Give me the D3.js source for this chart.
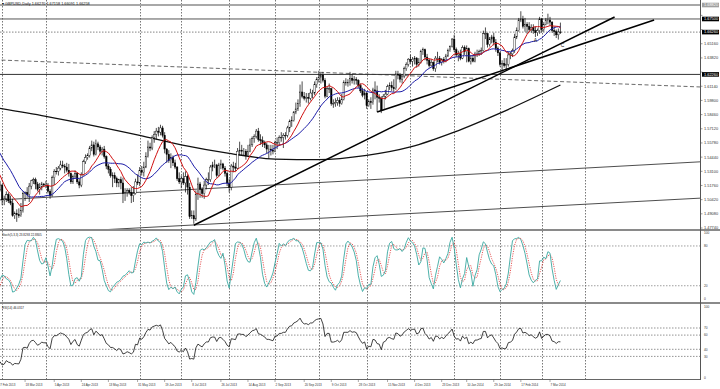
<!DOCTYPE html>
<html>
<head>
<meta charset="utf-8">
<script src="https://cdn.jsdelivr.net/npm/d3@7"></script>
<style>
body { margin: 0; background: #fff; }
svg { display: block; font-family: "Liberation Sans", Arial, sans-serif; }
</style>
</head>
<body>
<svg id="chart" width="720" height="389"></svg>
<script>
// ---- data (GBPUSD daily), one row per week ----
const startDay = "2013-01-21";
const holidays = ["2013-12-25", "2014-01-01"];
const openFirst = 1.5860;

const closes = [
  1.5845,1.5820,1.5830,1.5780,1.5710, 1.5730,1.5700,1.5800,1.5860,1.5740,
  1.5680,1.5690,1.5640,1.5650,1.5690, 1.5690,1.5690,1.5530,1.5500,1.5500,
  1.5490,1.5480,1.5290,1.5210,1.5160, 1.5130,1.5140,1.5140,1.5180,1.5040,
  1.5050,1.5090,1.5030,1.5010,1.4890, 1.4910,1.4900,1.4890,1.4940,1.5100,
  1.5110,1.5090,1.5170,1.5220,1.5230, 1.5190,1.5140,1.5160,1.5190,1.5180,
  1.5180,1.5120,1.5080,1.5250,1.5310, 1.5310,1.5340,1.5370,1.5360,1.5350,
  1.5320,1.5290,1.5210,1.5260,1.5290, 1.5210,1.5180,1.5280,1.5400,1.5440,
  1.5460,1.5530,1.5560,1.5470,1.5570, 1.5540,1.5500,1.5520,1.5450,1.5360,
  1.5330,1.5270,1.5270,1.5240,1.5200, 1.5230,1.5200,1.5100,1.5110,1.5130,
  1.5110,1.5080,1.5100,1.5210,1.5200, 1.5320,1.5300,1.5350,1.5450,1.5540,
  1.5530,1.5630,1.5660,1.5690,1.5680, 1.5720,1.5650,1.5520,1.5470,1.5410,
  1.5440,1.5390,1.5350,1.5240,1.5210, 1.5240,1.5200,1.5260,1.5160,1.4880,
  1.4890,1.4860,1.5090,1.5190,1.5140, 1.5100,1.5180,1.5230,1.5230,1.5350,
  1.5370,1.5370,1.5270,1.5370,1.5380, 1.5340,1.5290,1.5200,1.5160,1.5360,
  1.5350,1.5340,1.5500,1.5510,1.5500, 1.5500,1.5460,1.5500,1.5560,1.5620,
  1.5640,1.5690,1.5610,1.5600,1.5580, 1.5560,1.5520,1.5520,1.5510,1.5500,
  1.5580,1.5580,1.5630,1.5630,1.5650, 1.5650,1.5720,1.5780,1.5790,1.5870,
  1.5900,1.5950,1.6060,1.6020,1.6000, 1.6010,1.6000,1.6050,1.6050,1.6130,
  1.6180,1.6200,1.6220,1.6170,1.6020, 1.6090,1.6090,1.5950,1.5950,1.5960,
  1.5980,1.5950,1.5990,1.6150,1.6150, 1.6150,1.6190,1.6170,1.6180,1.6170,
  1.6120,1.6070,1.6030,1.6050,1.5930, 1.5970,1.5960,1.6080,1.6070,1.6010,
  1.6000,1.5890,1.6020,1.6040,1.6110, 1.6120,1.6100,1.6090,1.6230,1.6220,
  1.6180,1.6210,1.6280,1.6320,1.6370, 1.6350,1.6370,1.6380,1.6320,1.6340,
  1.6440,1.6460,1.6390,1.6360,1.6310, 1.6340,1.6280,1.6380,1.6380,1.6340,
  1.6370,1.6350,1.6400,1.6450,        1.6490,1.6560,1.6460,1.6410,
  1.6420,1.6380,1.6480,1.6440,1.6470, 1.6350,1.6380,1.6350,1.6420,1.6420,
  1.6440,1.6450,1.6610,1.6610,1.6510, 1.6560,1.6580,1.6530,1.6470,1.6430,
  1.6320,1.6330,1.6310,1.6320,1.6410, 1.6420,1.6450,1.6580,1.6640,1.6740,
  1.6750,1.6680,1.6700,1.6680,1.6650, 1.6670,1.6640,1.6620,1.6640,1.6750,
  1.6650,1.6700,1.6740,1.6740,1.6720, 1.6640,1.6630,1.6600,1.6627,1.6626
];

const highs = [
  1.5870,1.5870,1.5860,1.5860,1.5790, 1.5750,1.5760,1.5820,1.5880,1.5870,
  1.5760,1.5730,1.5710,1.5720,1.5710, 1.5730,1.5740,1.5700,1.5560,1.5530,
  1.5530,1.5510,1.5490,1.5310,1.5240, 1.5200,1.5160,1.5200,1.5220,1.5190,
  1.5080,1.5120,1.5110,1.5080,1.5050, 1.4930,1.4950,1.4960,1.5010,1.5120,
  1.5120,1.5160,1.5200,1.5230,1.5250, 1.5250,1.5210,1.5200,1.5210,1.5200,
  1.5220,1.5200,1.5140,1.5270,1.5330, 1.5350,1.5360,1.5410,1.5410,1.5380,
  1.5390,1.5380,1.5300,1.5280,1.5320, 1.5300,1.5240,1.5300,1.5420,1.5470,
  1.5480,1.5550,1.5600,1.5590,1.5610, 1.5590,1.5560,1.5540,1.5550,1.5460,
  1.5380,1.5350,1.5300,1.5300,1.5260, 1.5240,1.5260,1.5250,1.5150,1.5150,
  1.5150,1.5160,1.5170,1.5240,1.5280, 1.5350,1.5360,1.5400,1.5490,1.5600,
  1.5580,1.5650,1.5690,1.5720,1.5730, 1.5750,1.5740,1.5680,1.5530,1.5510,
  1.5480,1.5460,1.5420,1.5360,1.5300, 1.5270,1.5300,1.5310,1.5280,1.5200,
  1.4940,1.4940,1.5130,1.5250,1.5210, 1.5160,1.5220,1.5250,1.5300,1.5370,
  1.5400,1.5420,1.5380,1.5390,1.5420, 1.5390,1.5360,1.5310,1.5240,1.5380,
  1.5400,1.5390,1.5530,1.5590,1.5560, 1.5530,1.5520,1.5560,1.5620,1.5640,
  1.5660,1.5710,1.5720,1.5660,1.5640, 1.5600,1.5580,1.5560,1.5560,1.5560,
  1.5600,1.5630,1.5650,1.5680,1.5670, 1.5680,1.5740,1.5800,1.5830,1.5880,
  1.5960,1.5990,1.6130,1.6160,1.6060, 1.6050,1.6050,1.6090,1.6080,1.6160,
  1.6200,1.6260,1.6240,1.6250,1.6190, 1.6110,1.6140,1.6100,1.5990,1.6000,
  1.6010,1.6010,1.6040,1.6170,1.6190, 1.6180,1.6250,1.6230,1.6210,1.6200,
  1.6180,1.6140,1.6100,1.6090,1.6060, 1.5990,1.6010,1.6100,1.6160,1.6120,
  1.6040,1.6020,1.6040,1.6080,1.6130, 1.6150,1.6160,1.6180,1.6260,1.6260,
  1.6240,1.6230,1.6300,1.6340,1.6380, 1.6410,1.6390,1.6400,1.6390,1.6380,
  1.6460,1.6480,1.6470,1.6420,1.6380, 1.6370,1.6350,1.6400,1.6440,1.6400,
  1.6380,1.6390,1.6420,1.6470,        1.6500,1.6570,1.6600,1.6480,
  1.6450,1.6460,1.6500,1.6500,1.6500, 1.6480,1.6410,1.6410,1.6440,1.6460,
  1.6460,1.6480,1.6640,1.6670,1.6620, 1.6580,1.6600,1.6620,1.6560,1.6490,
  1.6440,1.6360,1.6380,1.6380,1.6440, 1.6440,1.6470,1.6610,1.6670,1.6760,
  1.6823,1.6780,1.6760,1.6720,1.6720, 1.6700,1.6700,1.6680,1.6660,1.6770,
  1.6760,1.6720,1.6760,1.6800,1.6770, 1.6730,1.6680,1.6650,1.6660,1.6716
];

const lows = [
  1.5830,1.5800,1.5770,1.5750,1.5680, 1.5690,1.5680,1.5690,1.5780,1.5710,
  1.5650,1.5630,1.5600,1.5610,1.5620, 1.5640,1.5650,1.5500,1.5470,1.5450,
  1.5460,1.5400,1.5270,1.5180,1.5130, 1.5070,1.5100,1.5100,1.5120,1.4990,
  1.4990,1.5020,1.5010,1.4990,1.4880, 1.4860,1.4832,1.4870,1.4880,1.4920,
  1.5030,1.5060,1.5020,1.5140,1.5190, 1.5140,1.5120,1.5090,1.5130,1.5160,
  1.5150,1.5100,1.5050,1.5070,1.5180, 1.5280,1.5270,1.5320,1.5340,1.5290,
  1.5300,1.5260,1.5190,1.5190,1.5240, 1.5190,1.5150,1.5160,1.5270,1.5380,
  1.5420,1.5440,1.5500,1.5450,1.5460, 1.5510,1.5470,1.5460,1.5430,1.5330,
  1.5290,1.5250,1.5160,1.5200,1.5160, 1.5160,1.5140,1.5010,1.5030,1.5070,
  1.5090,1.5010,1.5020,1.5090,1.5180, 1.5170,1.5270,1.5260,1.5340,1.5440,
  1.5500,1.5510,1.5580,1.5610,1.5640, 1.5650,1.5630,1.5480,1.5390,1.5390,
  1.5340,1.5360,1.5330,1.5220,1.5190, 1.5150,1.5180,1.5110,1.5090,1.4860,
  1.4860,1.4814,1.4840,1.5040,1.5060, 1.5060,1.5050,1.5140,1.5180,1.5210,
  1.5310,1.5340,1.5250,1.5260,1.5330, 1.5320,1.5260,1.5170,1.5110,1.5130,
  1.5300,1.5310,1.5330,1.5460,1.5460, 1.5460,1.5420,1.5450,1.5490,1.5540,
  1.5580,1.5620,1.5590,1.5560,1.5540, 1.5530,1.5480,1.5430,1.5460,1.5470,
  1.5490,1.5520,1.5550,1.5590,1.5530, 1.5610,1.5630,1.5680,1.5730,1.5780,
  1.5850,1.5880,1.5920,1.6000,1.5980, 1.5960,1.5950,1.5980,1.6000,1.6030,
  1.6100,1.6150,1.6140,1.6150,1.6000, 1.6010,1.6050,1.5930,1.5910,1.5920,
  1.5930,1.5920,1.5940,1.5980,1.6120, 1.6110,1.6120,1.6140,1.6130,1.6130,
  1.6100,1.6050,1.6010,1.5990,1.5900, 1.5920,1.5900,1.5940,1.5990,1.5870,
  1.5960,1.5860,1.5890,1.5990,1.6030, 1.6080,1.6070,1.6060,1.6080,1.6180,
  1.6150,1.6140,1.6190,1.6260,1.6300, 1.6330,1.6300,1.6320,1.6290,1.6300,
  1.6330,1.6410,1.6360,1.6320,1.6290, 1.6300,1.6260,1.6250,1.6340,1.6320,
  1.6310,1.6330,1.6340,1.6390,        1.6440,1.6480,1.6440,1.6390,
  1.6350,1.6360,1.6370,1.6410,1.6340, 1.6340,1.6320,1.6340,1.6340,1.6390,
  1.6400,1.6410,1.6440,1.6560,1.6480, 1.6490,1.6520,1.6500,1.6440,1.6400,
  1.6300,1.6250,1.6290,1.6260,1.6300, 1.6370,1.6390,1.6430,1.6560,1.6630,
  1.6720,1.6660,1.6630,1.6610,1.6630, 1.6620,1.6610,1.6580,1.6590,1.6610,
  1.6620,1.6630,1.6690,1.6700,1.6690, 1.6620,1.6590,1.6570,1.6555,1.6609
];

// 200-day average, read at month points
const sma200Knots = [
  ["2013-02-27", 1.5908], ["2013-04-01", 1.5830], ["2013-05-01", 1.5745],
  ["2013-06-03", 1.5650], ["2013-07-01", 1.5560], ["2013-08-01", 1.5480],
  ["2013-09-02", 1.5425], ["2013-10-01", 1.5420], ["2013-11-01", 1.5460],
  ["2013-12-02", 1.5540], ["2014-01-02", 1.5680], ["2014-02-03", 1.5860],
  ["2014-03-14", 1.6126]
];

const dateTicks = [
  "2013-02-27", "2013-03-18", "2013-04-05", "2013-04-24", "2013-05-13",
  "2013-05-31", "2013-06-19", "2013-07-08", "2013-07-26", "2013-08-14",
  "2013-09-02", "2013-09-20", "2013-10-09", "2013-10-28", "2013-11-15",
  "2013-12-04", "2013-12-23", "2014-01-10", "2014-01-29", "2014-02-17",
  "2014-03-07"
];
// dotted month separators as they appear in the picture
const monthLines = [
  "2013-03-01", "2013-04-01", "2013-06-03", "2013-07-01", "2013-08-01",
  "2013-09-02", "2013-10-01", "2013-11-01", "2013-12-02", "2014-01-02",
  "2014-02-03", "2014-03-03", "2014-04-01"
];
const priceTicks = [
  1.4774, 1.4908, 1.5042, 1.5176, 1.5310, 1.5444, 1.5578, 1.5712,
  1.5846, 1.5980, 1.6114, 1.6248, 1.6382, 1.6516, 1.6650, 1.6784
];
const levelPrices = [1.6882, 1.6750, 1.6226];
const trendSegments = [
  [["2013-07-09", 1.4800], ["2014-04-21", 1.6769]],
  [["2013-11-08", 1.5870], ["2014-05-16", 1.6740]]
];
const channelLines = [
  [["2013-02-27", 1.5039], ["2013-10-25", 1.5223]],
  [["2013-10-25", 1.4884], ["2014-03-07", 1.4981]]
];
const dashedLine = [["2013-02-28", 1.6362], ["2014-03-07", 1.6162]];
const waveLabels = [["2014-02-26", 1.6532, "A"], ["2014-03-17", 1.6485, "C"]];
const stochLevels = [80, 20];
const rsiLevels = [70, 60, 40, 30];
const headerText = "GBPUSD,Daily  1.66270 1.67158 1.66091 1.66258";
const stochText = "Stoch(5,3,3) 23.8293 22.8805";
const rsiText = "RSI(14) 46.0317";

if (closes.length !== highs.length || closes.length !== lows.length) {
  throw new Error("length mismatch " + closes.length + " " + highs.length + " " + lows.length);
}

// ---- calendar of trading days ----
function buildCalendar(start, n) {
  const out = [];
  const d = new Date(start + "T00:00:00Z");
  while (out.length < n) {
    const s = d.toISOString().slice(0, 10), wd = d.getUTCDay();
    if (wd > 0 && wd < 6 && !holidays.includes(s)) out.push(s);
    d.setUTCDate(d.getUTCDate() + 1);
  }
  return out;
}
const days = buildCalendar(startDay, closes.length + 90);
const di = s => days.indexOf(s);

const bars = closes.map((c, i) => ({
  i, c, h: highs[i], l: lows[i], o: i ? closes[i - 1] : openFirst
}));

// ---- indicators ----
function sma(arr, n) {
  return arr.map((v, i) => i < n - 1 ? null : d3.mean(arr.slice(i - n + 1, i + 1)));
}
const maFast = sma(closes, 10);
const maSlow = sma(closes, 21);

const stochMain = [], stochSig = [];
{
  const num = [], den = [];
  for (let i = 0; i < closes.length; i++) {
    if (i < 4) { num.push(null); den.push(null); continue; }
    const ll = d3.min(lows.slice(i - 4, i + 1)), hh = d3.max(highs.slice(i - 4, i + 1));
    num.push(closes[i] - ll); den.push(hh - ll);
  }
  for (let i = 0; i < closes.length; i++) {
    if (i < 6) { stochMain.push(null); continue; }
    const n = d3.sum(num.slice(i - 2, i + 1)), d = d3.sum(den.slice(i - 2, i + 1));
    stochMain.push(d ? 100 * n / d : 50);
  }
  for (let i = 0; i < closes.length; i++) {
    stochSig.push(i < 8 ? null : d3.mean(stochMain.slice(i - 2, i + 1)));
  }
}

const rsi = [];
{
  let ag = 0, al = 0;
  rsi.push(null);
  for (let i = 1; i < closes.length; i++) {
    const ch = closes[i] - closes[i - 1];
    const g = Math.max(ch, 0), l = Math.max(-ch, 0);
    if (i <= 14) {
      ag += g / 14; al += l / 14;
      rsi.push(i < 14 ? null : 100 - 100 / (1 + ag / al));
    } else {
      ag = (ag * 13 + g) / 14; al = (al * 13 + l) / 14;
      rsi.push(al === 0 ? 100 : 100 - 100 / (1 + ag / al));
    }
  }
}

// ---- layout ----
const svg = d3.select("#chart");
const plotW = 700;
const main = { top: 0, bottom: 229 }, stoch = { top: 231, bottom: 302 }, rsiP = { top: 304, bottom: 379 };

const x = d3.scaleLinear().domain([di("2013-02-27"), di("2014-03-07")]).range([-2, 550]);
const yP = d3.scaleLinear().domain([1.4774, 1.6920]).range([228, 1]);
const yS = d3.scaleLinear().domain([0, 100]).range([299, 232.7]);
const yR = d3.scaleLinear().domain([0, 100]).range([377.7, 306.7]);

const defs = svg.append("defs");
[["cMain", main], ["cStoch", stoch], ["cRsi", rsiP]].forEach(([id, p]) => {
  defs.append("clipPath").attr("id", id).append("rect")
    .attr("x", 0).attr("y", p.top).attr("width", plotW).attr("height", p.bottom - p.top);
});

svg.append("rect").attr("width", 720).attr("height", 389).attr("fill", "#fff");

// month separators (dotted verticals through all panels)
svg.append("g").selectAll("line").data(monthLines.map(di)).join("line")
  .attr("x1", i => Math.round(x(i)) + 0.5).attr("x2", i => Math.round(x(i)) + 0.5)
  .attr("y1", 0).attr("y2", rsiP.bottom)
  .attr("stroke", "#555").attr("stroke-width", 0.8).attr("stroke-dasharray", "1.5,1.5");

// ---- main panel ----
const gM = svg.append("g").attr("clip-path", "url(#cMain)");

function extended(a, b, x0, x1) {
  const ia = di(a[0]), ib = di(b[0]);
  const slope = (b[1] - a[1]) / (ib - ia);
  const i0 = x.invert(x0), i1 = x.invert(x1);
  return [[i0, a[1] + slope * (i0 - ia)], [i1, a[1] + slope * (i1 - ia)]];
}
const seg = d3.line().x(d => x(d[0])).y(d => yP(d[1]));

// dashed sloped line
gM.append("path").attr("d", seg(extended(dashedLine[0], dashedLine[1], -5, 720)))
  .attr("fill", "none").attr("stroke", "#444").attr("stroke-width", 0.8).attr("stroke-dasharray", "4,2.5");

// horizontal levels
const levelStyle = [
  { c: "#a8a8a8", w: 2 }, { c: "#555", w: 1 }, { c: "#333", w: 1 }
];
gM.selectAll("line.lvl").data(levelPrices).join("line").attr("class", "lvl")
  .attr("x1", 0).attr("x2", plotW).attr("y1", d => yP(d)).attr("y2", d => yP(d))
  .attr("stroke", (d, i) => levelStyle[i].c).attr("stroke-width", (d, i) => levelStyle[i].w);

// bid line
const bid = closes[closes.length - 1];
gM.append("line").attr("x1", 0).attr("x2", plotW).attr("y1", yP(bid)).attr("y2", yP(bid))
  .attr("stroke", "#666").attr("stroke-width", 0.8).attr("stroke-dasharray", "1.5,1.5");

// channel lines
channelLines.forEach(([a, b]) => {
  gM.append("path").attr("d", seg(extended(a, b, -5, 720)))
    .attr("fill", "none").attr("stroke", "#3a3a3a").attr("stroke-width", 0.9);
});

// 200 average
gM.append("path").datum(sma200Knots)
  .attr("d", d3.line().curve(d3.curveMonotoneX).x(d => x(di(d[0]))).y(d => yP(d[1])))
  .attr("fill", "none").attr("stroke", "#111").attr("stroke-width", 1.3);

// candles
gM.selectAll("line.wick").data(bars).join("line").attr("class", "wick")
  .attr("x1", d => x(d.i)).attr("x2", d => x(d.i))
  .attr("y1", d => yP(Math.max(d.h, d.o, d.c))).attr("y2", d => yP(Math.min(d.l, d.o, d.c)))
  .attr("stroke", "#000").attr("stroke-width", 0.7);
gM.selectAll("rect.body").data(bars).join("rect").attr("class", "body")
  .attr("x", d => x(d.i) - 0.75).attr("width", 1.5)
  .attr("y", d => yP(Math.max(d.o, d.c)))
  .attr("height", d => Math.max(0.5, Math.abs(yP(d.o) - yP(d.c))))
  .attr("fill", d => d.c >= d.o ? "#fff" : "#000")
  .attr("stroke", "#000").attr("stroke-width", 0.4);

// moving averages
const maLine = d3.line().defined(d => d[1] != null).x(d => x(d[0])).y(d => yP(d[1]));
gM.append("path").attr("d", maLine(maSlow.map((v, i) => [i, v])))
  .attr("fill", "none").attr("stroke", "#1c1ca8").attr("stroke-width", 1);
gM.append("path").attr("d", maLine(maFast.map((v, i) => [i, v])))
  .attr("fill", "none").attr("stroke", "#d01010").attr("stroke-width", 1);

// trend segments
trendSegments.forEach(([a, b]) => {
  gM.append("path").attr("d", seg([[di(a[0]), a[1]], [di(b[0]), b[1]]]))
    .attr("fill", "none").attr("stroke", "#000").attr("stroke-width", 1.5);
});

// wave labels
gM.selectAll("text.wave").data(waveLabels).join("text").attr("class", "wave")
  .attr("x", d => x(di(d[0]))).attr("y", d => yP(d[1]))
  .attr("text-anchor", "middle").attr("font-size", 5).attr("fill", "#222").text(d => d[2]);

// header
svg.append("text").attr("x", 2).attr("y", 4.5).attr("font-size", 3.8).attr("fill", "#111")
  .text("\u25BE " + headerText);

// ---- stochastic panel ----
const gS = svg.append("g").attr("clip-path", "url(#cStoch)");
gS.selectAll("line").data(stochLevels).join("line")
  .attr("x1", 0).attr("x2", plotW).attr("y1", d => yS(d)).attr("y2", d => yS(d))
  .attr("stroke", "#777").attr("stroke-width", 0.7).attr("stroke-dasharray", "1.5,1.5");
const sLine = d3.line().defined(d => d[1] != null).x(d => x(d[0])).y(d => yS(d[1]));
gS.append("path").attr("d", sLine(stochSig.map((v, i) => [i, v])))
  .attr("fill", "none").attr("stroke", "#e03030").attr("stroke-width", 0.8).attr("stroke-dasharray", "1.2,1.2");
gS.append("path").attr("d", sLine(stochMain.map((v, i) => [i, v])))
  .attr("fill", "none").attr("stroke", "#3aa8a0").attr("stroke-width", 0.9);
svg.append("text").attr("x", 2).attr("y", 235.5).attr("font-size", 3).attr("fill", "#222").text(stochText);

// ---- RSI panel ----
const gR = svg.append("g").attr("clip-path", "url(#cRsi)");
gR.selectAll("line").data(rsiLevels).join("line")
  .attr("x1", 0).attr("x2", plotW).attr("y1", d => yR(d)).attr("y2", d => yR(d))
  .attr("stroke", "#666").attr("stroke-width", 0.7).attr("stroke-dasharray", "1.5,1.5");
gR.append("path").attr("d", d3.line().defined(d => d[1] != null).x(d => x(d[0])).y(d => yR(d[1]))(rsi.map((v, i) => [i, v])))
  .attr("fill", "none").attr("stroke", "#111").attr("stroke-width", 0.8);
svg.append("text").attr("x", 2).attr("y", 308.5).attr("font-size", 3).attr("fill", "#222").text(rsiText);

// ---- frames ----
svg.append("line").attr("x1", 0).attr("x2", 720).attr("y1", 230).attr("y2", 230).attr("stroke", "#8a8a8a").attr("stroke-width", 2);
svg.append("line").attr("x1", 0).attr("x2", 720).attr("y1", 303).attr("y2", 303).attr("stroke", "#8a8a8a").attr("stroke-width", 2);
svg.append("line").attr("x1", 0).attr("x2", plotW + 0.5).attr("y1", 379.5).attr("y2", 379.5).attr("stroke", "#666").attr("stroke-width", 1);
svg.append("line").attr("x1", plotW + 0.5).attr("x2", plotW + 0.5).attr("y1", 0).attr("y2", 380).attr("stroke", "#555").attr("stroke-width", 1);

// ---- price axis ----
const bid0 = bid;
const boxes = levelPrices.map((p, i) => ({ p, fill: i === 0 ? "#a0a0a0" : "#000" }))
  .concat([{ p: bid0, fill: "#000" }]);
const boxY = boxes.map(b => yP(b.p));
const freeTicks = priceTicks.filter(t => boxY.every(by => Math.abs(yP(t) - by) > 5));

const gA = svg.append("g").attr("font-size", 3.9).attr("fill", "#333");
gA.selectAll("line").data(priceTicks).join("line")
  .attr("x1", plotW).attr("x2", plotW + 2.5).attr("y1", d => yP(d)).attr("y2", d => yP(d))
  .attr("stroke", "#555").attr("stroke-width", 0.6);
gA.selectAll("text").data(freeTicks).join("text")
  .attr("x", 704).attr("y", d => yP(d) + 1.4).text(d => d.toFixed(5));

// price boxes for levels and bid
boxes.forEach(b => {
  const y = yP(b.p);
  svg.append("rect").attr("x", 702).attr("y", y - 2.3).attr("width", 17).attr("height", 4.6).attr("fill", b.fill);
  svg.append("text").attr("x", 704).attr("y", y + 1.4).attr("font-size", 3.9).attr("fill", "#fff").text(b.p.toFixed(5));
});

// indicator scales
const gI = svg.append("g").attr("font-size", 3.2).attr("fill", "#333");
[100].concat(stochLevels, [0]).forEach(v => {
  gI.append("text").attr("x", 704).attr("y", yS(v) + 1.2).text(v);
});
[100].concat(rsiLevels, [0]).forEach(v => {
  gI.append("text").attr("x", 704).attr("y", yR(v) + 1.2).text(v);
});

// ---- date axis ----
const fmt = d3.utcFormat("%-d %b %Y");
const gD = svg.append("g").attr("font-size", 3).attr("fill", "#333");
gD.selectAll("line").data(dateTicks).join("line")
  .attr("x1", d => x(di(d))).attr("x2", d => x(di(d))).attr("y1", 379.5).attr("y2", 382)
  .attr("stroke", "#555").attr("stroke-width", 0.5);
gD.selectAll("text").data(dateTicks).join("text")
  .attr("x", d => x(di(d)) + 0.5).attr("y", 385.5)
  .text(d => fmt(new Date(d + "T00:00:00Z")));
</script>
</body>
</html>
